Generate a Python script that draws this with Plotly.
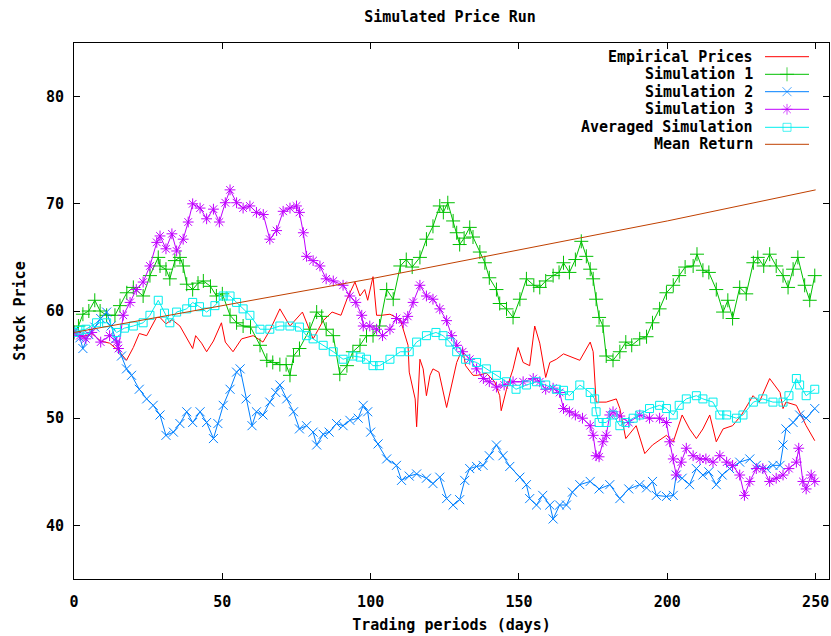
import plotly.graph_objects as go

# ---------------- data ----------------
emp_x = [0, 3, 6, 9, 12, 15, 17.7, 20, 22, 24.5, 27.8, 29, 31, 33, 35.7, 38, 40, 41, 43, 44.7, 47, 49.7, 51, 53.6,
         56.5, 60.4, 63.7, 66, 69.4, 72.8, 77, 80.6, 84, 87, 90, 92, 94.7, 96.4, 98, 99, 100.8, 102, 103.7, 106.5,
         110, 112.6, 113, 115, 115.5, 116.6, 117.7, 118.8, 120, 121, 123, 125.6, 126.7, 129, 131, 132, 134.5, 136,
         139, 141.8, 143.5, 144, 145.8, 148, 149.7, 151.4, 153.6, 155.3, 157, 159, 160.4, 162.6, 165, 167, 170.5,
         174, 175, 176, 179.4, 182.8, 184, 186, 189.5, 192.4, 195, 199.7, 202, 205, 207.5, 209.8, 212, 214.3,
         216.5, 218.8, 222, 225, 228.9, 231, 234.5, 238, 239, 240, 243.5, 246.8, 249.7]
emp_y = [58.0, 57.6, 57.9, 57.2, 57.0, 56.3, 55.4, 56.6, 57.9, 57.7, 59.4, 59.4, 58.8, 59.2, 58.6, 57.5, 56.5, 57.7,
         57.0, 56.2, 57.2, 58.9, 57.1, 56.2, 57.4, 57.7, 57.1, 58.2, 60.2, 58.6, 59.9, 57.4, 59.1, 59.9, 59.6, 61.1,
         62.7, 61.4, 62.0, 61.0, 63.2, 59.6, 59.6, 59.7, 59.2, 56.8, 54.3, 51.8, 49.2, 55.5, 54.6, 52.1, 54.0, 54.6,
         54.3, 51.0, 52.4, 55.2, 56.5, 54.9, 54.0, 54.0, 54.2, 53.4, 52.1, 50.7, 52.7, 54.6, 56.6, 55.2, 54.9, 58.6,
         57.0, 53.8, 55.2, 55.5, 56.0, 55.8, 55.4, 57.1, 56.2, 51.5, 51.5, 51.8, 50.9, 48.1, 49.3, 46.7, 47.5, 48.4,
         47.8, 50.3, 49.0, 48.1, 49.0, 50.3, 47.8, 49.0, 49.3, 50.3, 52.1, 51.5, 53.7, 52.4, 50.9, 51.5, 51.2, 49.3,
         47.9]

sim1_x = [0, 1.5, 3, 5, 7, 8.8, 11, 13.8, 15.5, 17.8, 20, 23.3, 25.6, 28.4, 29, 31, 32.3, 34, 35.7, 36.8, 38, 40,
          41.8, 43.6, 46, 48, 50, 52.6, 54.8, 57, 59.5, 62.7, 65, 67, 69.4, 71.5, 72.8, 74, 76, 79.5, 81.8, 83.5, 85,
          87.4, 89.6, 92, 94, 96.4, 98.6, 100.8, 103, 105.4, 107.6, 110, 112, 114, 116.6, 118.8, 121, 123.3, 124.5,
          126, 127.8, 129, 130, 131.5, 133.4, 134.5, 136.8, 138.5, 140, 142.4, 143.5, 145.8, 148, 150.3, 152.5, 155,
          157, 159, 161.5, 163.5, 165, 167, 169, 171, 172.7, 174, 175, 176, 177, 178.3, 179.4, 181.7, 184, 186, 188,
          190.7, 193, 195, 197.4, 199.7, 202, 204, 206, 208.7, 210, 212, 214, 216.5, 218.8, 220.4, 222, 224.4, 226.6,
          229, 230.5, 232.5, 234.5, 236.7, 239, 240.7, 242.4, 244, 246.3, 248, 249.7]
sim1_y = [58.0, 58.6, 59.7, 60.0, 61.0, 60.0, 59.6, 59.6, 60.5, 61.7, 62.2, 61.4, 63.3, 65.0, 64.2, 63.9, 63.0, 64.7,
          65.0, 64.2, 62.5, 62.0, 62.6, 62.8, 62.3, 61.4, 61.6, 59.6, 58.9, 58.6, 58.5, 56.8, 55.4, 55.2, 55.0, 55.0,
          54.0, 55.8, 56.5, 58.3, 59.9, 59.5, 58.3, 57.7, 54.1, 54.9, 56.2, 56.8, 57.7, 57.7, 58.6, 62.0, 61.1, 64.2,
          64.8, 64.1, 65.0, 66.7, 67.9, 69.8, 69.2, 70.1, 68.4, 67.3, 66.2, 66.8, 67.8, 66.9, 65.5, 64.5, 63.1, 62.0,
          60.7, 60.2, 59.4, 61.1, 63.0, 62.4, 62.2, 62.8, 63.3, 63.6, 64.5, 63.6, 64.8, 66.5, 65.1, 63.9, 63.0, 61.1,
          59.4, 58.6, 55.8, 55.4, 56.2, 57.1, 56.8, 57.4, 57.6, 58.9, 60.2, 61.7, 62.4, 63.3, 64.1, 64.2, 65.3, 63.8,
          63.6, 62.0, 59.9, 61.0, 59.3, 62.2, 61.6, 64.5, 65.0, 64.2, 65.3, 64.2, 63.3, 62.2, 63.9, 65.0, 62.4, 61.0,
          63.3]

sim2_x = [0, 2, 3, 5, 7, 9, 11, 12.5, 14, 16, 17.7, 19.4, 22, 24.5, 26.7, 29, 31, 33.5, 35.7, 38, 40, 42.5, 44.7, 47,
          48.5, 50.3, 52.6, 54.8, 56, 58, 60, 61.5, 63.7, 66, 68, 69.4, 71.7, 74, 76, 78.4, 80.6, 81.8, 84, 86, 88.5,
          90.7, 93, 95.8, 97.5, 99, 100, 102.5, 105.4, 108.7, 110.4, 113, 115.5, 118.8, 121, 123.3, 125.6, 127.8, 130,
          131.7, 133.4, 135.7, 137.9, 140, 142.4, 144.6, 146.9, 150.3, 152.5, 153.6, 155.9, 158, 160.4, 161.5, 163.7,
          166, 168, 170.5, 174, 177, 180.6, 184, 187, 190.7, 193, 195, 196.3, 199.7, 202, 203, 205, 207.5, 209.8, 212,
          214, 216.5, 218.5, 221, 224.4, 227.8, 230, 233.4, 235.6, 238, 239, 240, 242.4, 244.6, 246.8, 249.7]
sim2_y = [58.0, 57.5, 56.5, 57.8, 58.5, 59.3, 59.9, 58.6, 57.4, 55.8, 54.6, 54.0, 52.7, 51.8, 51.2, 50.3, 48.4, 48.7,
          49.5, 50.6, 49.6, 50.6, 49.6, 48.1, 49.5, 51.2, 52.7, 54.3, 54.6, 51.8, 49.3, 50.6, 50.3, 51.5, 52.4, 53.1,
          51.8, 50.6, 49.0, 49.3, 48.7, 47.5, 48.5, 48.7, 49.5, 49.3, 49.8, 50.0, 51.2, 50.6, 48.7, 47.6, 46.2, 45.6,
          44.2, 44.6, 44.8, 44.4, 43.9, 44.5, 42.5, 41.9, 42.4, 44.2, 45.3, 45.5, 45.6, 46.5, 47.5, 46.5, 45.5, 44.5,
          43.8, 42.5, 41.9, 42.8, 41.9, 40.6, 41.9, 41.9, 43.1, 43.8, 44.1, 43.4, 43.8, 42.5, 43.4, 43.8, 43.5, 44.1,
          42.8, 42.7, 42.8, 44.7, 44.4, 43.8, 45.3, 44.7, 45.0, 43.8, 44.7, 45.3, 45.9, 46.2, 45.6, 45.3, 45.6, 45.6,
          47.5, 49.0, 49.6, 50.3, 50.0, 50.9]

sim3_x = [0, 2, 4, 6, 9, 12, 14.4, 15, 16.6, 18.9, 21, 23.3, 25.6, 27.9, 29, 31, 33, 34.6, 36.8, 38.5, 40, 42.5, 44.7,
          47, 49, 51, 52.6, 54.8, 57, 59.3, 61.5, 63.8, 66, 68.3, 70.5, 72.8, 75, 76, 77.3, 78.4, 80.6, 82.9, 85, 87.4,
          90.7, 93, 95, 97, 97.5, 99.7, 102, 104, 106.5, 108.7, 111, 112.5, 114.3, 116.6, 118.8, 121, 123.3, 125.6,
          127.3, 129, 131, 133.4, 135.7, 138, 140, 142.4, 145, 148, 151.4, 154.8, 157, 159, 161.5, 163.7, 165, 167,
          169, 171.4, 174, 175, 176, 177, 178.3, 179.4, 180.6, 181.7, 184, 187, 190.7, 194, 197.4, 199.7, 200.8, 202,
          203, 204.7, 206.4, 208.7, 211, 213, 215.4, 217.7, 220, 222, 224.4, 226, 227.8, 230, 232.2, 234.5, 236.7,
          239, 241, 243.5, 244.3, 245.7, 246.8, 248.5, 249.7]
sim3_y = [58.0, 57.7, 57.4, 58.0, 57.1, 57.7, 57.1, 56.5, 59.6, 60.8, 62.0, 62.7, 64.2, 66.4, 67.0, 65.8, 67.2, 65.6,
          66.7, 68.3, 70.0, 69.6, 68.6, 69.5, 68.3, 70.1, 71.3, 70.1, 69.6, 69.8, 69.2, 69.0, 66.7, 67.5, 69.3, 69.6,
          69.8, 69.2, 67.3, 65.1, 64.7, 64.2, 63.0, 62.8, 62.4, 61.4, 60.8, 59.6, 58.6, 58.6, 58.3, 57.7, 58.3, 59.3,
          58.9, 59.5, 60.8, 62.4, 61.4, 61.1, 60.2, 59.1, 57.7, 56.8, 56.2, 55.5, 54.6, 53.7, 53.4, 52.9, 53.1, 53.4,
          53.4, 53.7, 53.4, 52.7, 52.8, 52.4, 50.9, 50.6, 50.3, 50.0, 49.3, 48.4, 46.5, 46.4, 47.8, 48.4, 50.3, 50.6,
          50.2, 49.6, 50.3, 50.0, 50.0, 49.6, 47.8, 46.2, 44.7, 45.9, 47.2, 46.5, 46.2, 46.2, 45.9, 46.5, 45.9, 45.6,
          44.7, 42.8, 44.1, 45.3, 45.3, 44.1, 44.4, 44.7, 45.3, 45.9, 47.2, 44.1, 43.4, 44.7, 44.1]

avg_x = [0, 2, 4, 7.6, 11, 14.4, 17, 20, 23.3, 25.6, 28.4, 30.5, 32.3, 34.6, 38, 40, 42.3, 44.7, 47.5, 50.3, 52.6,
         54.8, 57, 59.3, 62.7, 66, 69.4, 72.8, 76, 78.4, 80.6, 84, 87.4, 90.7, 94, 96.5, 98.6, 100.8, 103, 106.5, 110,
         113, 115.5, 118.8, 122, 124.4, 126.7, 129, 132, 135.7, 139, 142.4, 145.8, 149, 152.5, 155.9, 159, 162.6, 165,
         167, 170.5, 174, 175.5, 176, 177, 179.4, 181.7, 184, 186, 188.5, 190.7, 194, 197.4, 199.7, 202, 204, 206.4,
         209.8, 212, 215.4, 217.7, 220, 223.3, 225.5, 229, 232.2, 235.6, 239, 241, 243.5, 244.6, 246.8, 249.7]
avg_y = [58.0, 58.2, 58.3, 58.9, 58.9, 58.0, 58.4, 58.6, 58.9, 59.6, 61.0, 59.8, 58.9, 59.9, 60.2, 60.8, 60.4, 59.9,
         60.5, 61.4, 61.4, 60.8, 60.2, 59.6, 58.3, 58.3, 58.6, 58.6, 58.5, 57.7, 57.4, 56.8, 56.2, 55.5, 55.8, 55.7,
         55.5, 54.9, 54.9, 55.5, 56.2, 56.2, 57.1, 57.7, 58.0, 57.7, 57.1, 56.2, 55.5, 55.2, 54.6, 54.0, 53.4, 52.7,
         53.1, 53.4, 53.1, 52.7, 52.6, 52.1, 53.1, 52.4, 51.8, 50.6, 49.6, 49.6, 50.3, 49.3, 49.6, 50.0, 50.3, 50.9,
         51.2, 50.9, 50.3, 51.2, 51.8, 52.1, 51.8, 51.5, 50.3, 50.3, 50.0, 50.3, 51.5, 51.8, 51.5, 51.5, 52.1, 53.7,
         53.1, 52.1, 52.7]

mean_x = [0, 50, 100, 150, 200, 250]
mean_y = [58.0, 60.5, 63.0, 65.7, 68.4, 71.3]

series_names = ["Empirical Prices", "Simulation 1", "Simulation 2", "Simulation 3",
                "Averaged Simulation", "Mean Return"]

x_ticks = [0, 50, 100, 150, 200, 250]
y_ticks = [40, 50, 60, 70, 80]

# ---------------- styles ----------------
FONT = "DejaVu Sans Mono"
FSIZE = 15
colors = ["#ff0000", "#00c000", "#0080ff", "#c000ff", "#00eeee", "#c04000"]
symbols = [None, "cross-thin-open", "x-thin-open", "asterisk-open", "square-open", None]
msizes = [0, 10, 9, 9, 8, 0]

W, H = 831, 636
L, R, T, B = 74, 829, 43, 579   # plot area in pixels


def px_to_paper_x(px):
    return (px - L) / (R - L)


def px_to_paper_y(py):
    return (B - py) / (B - T)


def tfont():
    return dict(family=FONT, size=FSIZE, color="black", weight="bold")


fig = go.Figure()
data = [(emp_x, emp_y), (sim1_x, sim1_y), (sim2_x, sim2_y), (sim3_x, sim3_y), (avg_x, avg_y), (mean_x, mean_y)]
for i, (xs, ys) in enumerate(data):
    if symbols[i] is None:
        fig.add_trace(go.Scatter(x=xs, y=ys, mode="lines", name=series_names[i],
                                 line=dict(color=colors[i], width=1), showlegend=False))
    else:
        fig.add_trace(go.Scatter(x=xs, y=ys, mode="lines+markers", name=series_names[i],
                                 line=dict(color=colors[i], width=1),
                                 marker=dict(symbol=symbols[i], size=msizes[i], color=colors[i],
                                             line=dict(color=colors[i], width=1)),
                                 showlegend=False))

# ---------------- custom gnuplot-style legend (text right-aligned, key on the right) ----------------
legend_rows_px = [56.7, 74.3, 91.7, 109.3, 127.3, 144.3]
key_x0, key_x1, key_xm = px_to_paper_x(765), px_to_paper_x(809), px_to_paper_x(787)
text_x = px_to_paper_x(755)
annotations = []
for i, name in enumerate(series_names):
    yy = px_to_paper_y(legend_rows_px[i])
    annotations.append(dict(x=text_x, y=yy, xref="paper", yref="paper", text=name, showarrow=False,
                            xanchor="right", yanchor="middle", font=tfont()))
    msz = msizes[i]
    fig.add_trace(go.Scatter(
        x=[key_x0, key_xm, key_x1], y=[yy, yy, yy], xaxis="x2", yaxis="y2",
        mode="lines+markers" if symbols[i] else "lines",
        line=dict(color=colors[i], width=1),
        marker=dict(symbol=symbols[i] or "circle", size=[0, msz, 0], color=colors[i],
                    line=dict(color=colors[i], width=1)),
        showlegend=False, hoverinfo="skip"))

axis_common = dict(showgrid=False, zeroline=False, showline=True, linecolor="black", linewidth=1,
                   mirror="ticks", ticks="inside", ticklen=6, tickwidth=1, tickcolor="black",
                   tickfont=tfont())

fig.update_layout(
    width=W, height=H,
    margin=dict(l=L, r=W - R, t=T, b=H - B, pad=0),
    paper_bgcolor="white", plot_bgcolor="white",
    font=tfont(),
    title=dict(text="Simulated Price Run", x=px_to_paper_x(450), xref="paper", xanchor="center",
               y=1 - 17 / H, yref="container", yanchor="middle", font=tfont()),
    xaxis=dict(range=[0, 254.5], tickvals=x_ticks, ticktext=[str(v) for v in x_ticks],
               ticklabelstandoff=9,
               title=dict(text="Trading periods (days)", standoff=9, font=tfont()),
               **axis_common),
    yaxis=dict(range=[35, 85], tickvals=y_ticks, ticktext=[str(v) for v in y_ticks],
               ticklabelstandoff=6,
               title=dict(text="Stock Price", standoff=16, font=tfont()),
               **axis_common),
    xaxis2=dict(overlaying="x", range=[0, 1], visible=False, fixedrange=True),
    yaxis2=dict(overlaying="y", range=[0, 1], visible=False, fixedrange=True),
    annotations=annotations,
)

fig.write_html("out.html")
